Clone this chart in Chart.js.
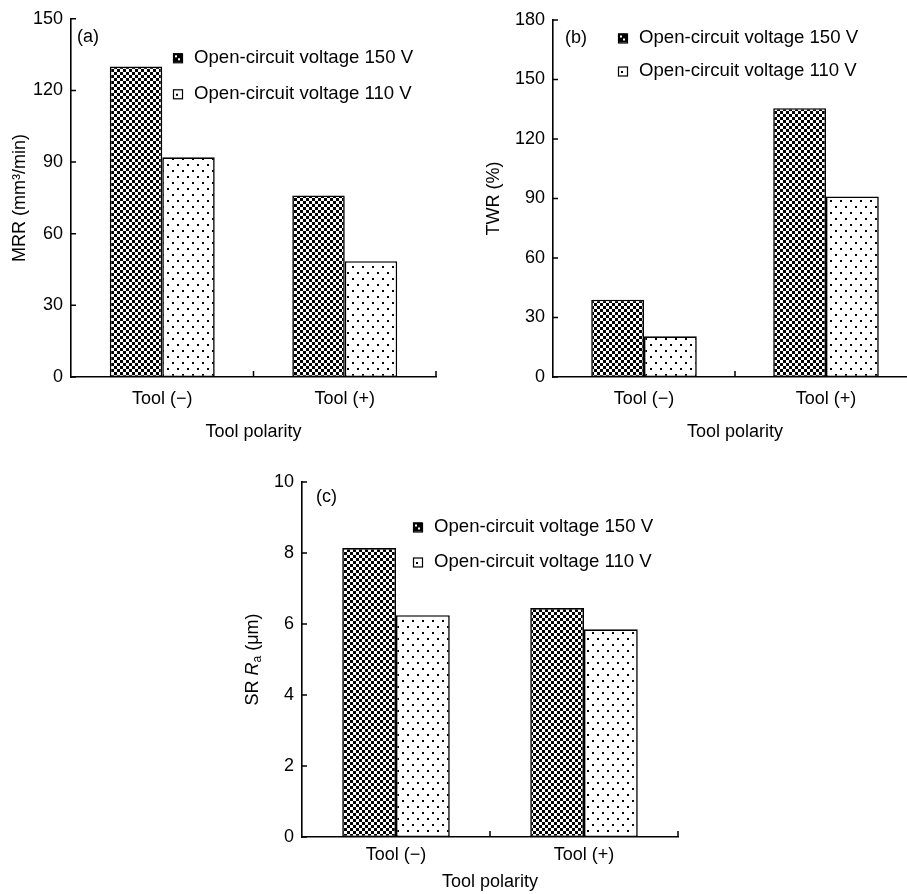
<!DOCTYPE html>
<html>
<head>
<meta charset="utf-8">
<script src="https://cdn.jsdelivr.net/npm/chart.js@4"></script>
<style>
  html, body { margin: 0; padding: 0; background: #fff; overflow: hidden; }
  #page { position: relative; width: 907px; height: 894px; overflow: hidden; }
  .panel { position: absolute; }
</style>
</head>
<body>
<div id="page">
  <div class="panel" style="left:0;top:0"><canvas id="chartA" width="453" height="450"></canvas></div>
  <div class="panel" style="left:453px;top:0"><canvas id="chartB" width="470" height="450"></canvas></div>
  <div class="panel" style="left:230px;top:450px"><canvas id="chartC" width="480" height="444"></canvas></div>
</div>
<script>
const categories = ["Tool (\u2212)", "Tool (+)"];
const seriesNames = ["Open-circuit voltage 150 V", "Open-circuit voltage 110 V"];

const mrr150 = [130, 76];
const mrr110 = [92, 48.5];
const mrrTicks = [0, 30, 60, 90, 120, 150];

const twr150 = [39, 135.5];
const twr110 = [20.5, 91];
const twrTicks = [0, 30, 60, 90, 120, 150, 180];

const sr150 = [8.14, 6.45];
const sr110 = [6.25, 5.85];
const srTicks = [0, 2, 4, 6, 8, 10];

const FONT = "'Liberation Sans', Arial, sans-serif";
Chart.defaults.font.family = FONT;
Chart.defaults.font.size = 18;
Chart.defaults.color = "#000";

// fill patterns for the two series
function checkerPattern(cell) {
  const c = document.createElement("canvas");
  c.width = cell * 2; c.height = cell * 2;
  const g = c.getContext("2d");
  g.fillStyle = "#fff"; g.fillRect(0, 0, cell * 2, cell * 2);
  g.fillStyle = "#000"; g.fillRect(0, 0, cell, cell); g.fillRect(cell, cell, cell, cell);
  return g.createPattern(c, "repeat");
}
function dotPattern() {
  const c = document.createElement("canvas");
  c.width = 10; c.height = 12;
  const g = c.getContext("2d");
  g.fillStyle = "#fff"; g.fillRect(0, 0, 10, 12);
  g.fillStyle = "#000"; g.fillRect(2, 2, 2, 2); g.fillRect(7, 8, 2, 2);
  return g.createPattern(c, "repeat");
}
const checker = checkerPattern(3);
const dots = dotPattern();

// small tick marks pointing into the plot
const innerTicks = {
  id: "innerTicks",
  afterDraw(chart) {
    const { ctx, chartArea, scales } = chart;
    const x = scales.x, y = scales.y;
    ctx.save();
    ctx.strokeStyle = "#000";
    ctx.lineWidth = 1.5;
    ctx.beginPath();
    y.ticks.forEach(t => {
      const py = y.getPixelForValue(t.value);
      ctx.moveTo(chartArea.left, py);
      ctx.lineTo(chartArea.left + 5, py);
    });
    for (let i = 1; i <= x.ticks.length; i++) {
      const px = i < x.ticks.length
        ? (x.getPixelForTick(i - 1) + x.getPixelForTick(i)) / 2
        : chartArea.right;
      ctx.moveTo(px, chartArea.bottom);
      ctx.lineTo(px, chartArea.bottom - 6);
    }
    ctx.stroke();
    ctx.restore();
  }
};

// legend + panel tag drawn inside the plot area
const insideLegend = {
  id: "insideLegend",
  afterDraw(chart, args, opts) {
    const { ctx, chartArea } = chart;
    ctx.save();
    ctx.textBaseline = "middle";
    ctx.fillStyle = "#000";
    ctx.font = "18px " + FONT;
    ctx.fillText(opts.tag, chartArea.left + opts.tagX, chartArea.top + opts.tagY);
    ctx.font = "18.6px " + FONT;
    chart.data.datasets.forEach((ds, i) => {
      const bx = chartArea.left + opts.x;
      const cy = chartArea.top + opts.y + i * opts.gap;
      ctx.fillStyle = i === 0 ? "#000" : "#fff";
      ctx.fillRect(bx, cy - 4.5, 9, 9);
      ctx.fillStyle = i === 0 ? "#fff" : "#000";
      if (i === 0) {
        ctx.fillRect(bx + 2, cy - 2.5, 2, 2);
        ctx.fillRect(bx + 5, cy + 0.5, 2, 2);
      } else {
        ctx.fillRect(bx + 3, cy, 2, 2);
      }
      ctx.strokeStyle = "#000";
      ctx.lineWidth = 1.2;
      ctx.strokeRect(bx + 0.5, cy - 4, 9, 9);
      ctx.fillStyle = "#000";
      ctx.fillText(ds.label, bx + 21, cy);
    });
    ctx.restore();
  }
};

// y title with italic symbol and subscript
const richYTitle = {
  id: "richYTitle",
  afterDraw(chart, args, opts) {
    if (!opts.parts) return;
    const { ctx, chartArea } = chart;
    ctx.save();
    ctx.translate(opts.x, (chartArea.top + chartArea.bottom) / 2);
    ctx.rotate(-Math.PI / 2);
    ctx.textBaseline = "middle";
    ctx.fillStyle = "#000";
    let total = 0;
    opts.parts.forEach(p => { ctx.font = p.font; total += ctx.measureText(p.text).width; });
    let cx = -total / 2;
    opts.parts.forEach(p => {
      ctx.font = p.font;
      ctx.fillText(p.text, cx, p.dy || 0);
      cx += ctx.measureText(p.text).width;
    });
    ctx.restore();
  }
};

function makeChart(id, cfg) {
  const ticksList = cfg.ticks;
  return new Chart(document.getElementById(id), {
    type: "bar",
    data: {
      labels: categories,
      datasets: [
        { label: seriesNames[0], data: cfg.a, backgroundColor: checker },
        { label: seriesNames[1], data: cfg.b, backgroundColor: dots }
      ].map(d => Object.assign(d, {
        borderColor: "#000",
        borderWidth: 1.6,
        borderSkipped: false,
        barPercentage: 1,
        categoryPercentage: cfg.catPct
      }))
    },
    options: {
      responsive: false,
      animation: false,
      devicePixelRatio: 1,
      layout: { padding: cfg.pad },
      plugins: {
        legend: { display: false },
        tooltip: { enabled: false },
        insideLegend: cfg.legend,
        richYTitle: cfg.richTitle || {}
      },
      scales: {
        x: {
          grid: { display: false, drawTicks: false },
          border: { color: "#000", width: 1.6 },
          ticks: { color: "#000", padding: cfg.xTickPad },
          title: { display: true, text: "Tool polarity", color: "#000", padding: { top: 0, bottom: cfg.xTitlePad } },
          afterFit: s => { s.height = cfg.xH; }
        },
        y: {
          min: ticksList[0],
          max: ticksList[ticksList.length - 1],
          afterBuildTicks: s => { s.ticks = ticksList.map(v => ({ value: v })); },
          grid: { display: false, drawTicks: false },
          border: { color: "#000", width: 1.6 },
          ticks: { color: "#000", padding: 8 },
          title: { display: !!cfg.yTitle, text: cfg.yTitle, color: "#000", padding: { top: cfg.yTitlePad, bottom: 0 } },
          afterFit: s => { s.width = cfg.yW; }
        }
      }
    },
    plugins: [innerTicks, insideLegend, richYTitle]
  });
}

makeChart("chartA", {
  a: mrr150, b: mrr110, ticks: mrrTicks, catPct: 0.575,
  pad: { left: 0, top: 18, right: 17, bottom: 0 },
  yW: 71, xH: 73, xTickPad: 11, xTitlePad: 7, yTitlePad: 9,
  yTitle: "MRR (mm\u00B3/min)",
  legend: { tag: "(a)", tagX: 6, tagY: 18, x: 102, y: 39, gap: 36 }
});

makeChart("chartB", {
  a: twr150, b: twr110, ticks: twrTicks, catPct: 0.58,
  pad: { left: 0, top: 20, right: 6, bottom: 0 },
  yW: 100, xH: 73, xTickPad: 11, xTitlePad: 7, yTitlePad: 30,
  yTitle: "TWR (%)",
  legend: { tag: "(b)", tagX: 12, tagY: 18, x: 65, y: 18, gap: 33 }
});

makeChart("chartC", {
  a: sr150, b: sr110, ticks: srTicks, catPct: 0.572,
  pad: { left: 0, top: 32, right: 32, bottom: 0 },
  yW: 72, xH: 57, xTickPad: 7, xTitlePad: 1, yTitlePad: 0,
  yTitle: "",
  richTitle: {
    x: 23,
    parts: [
      { text: "SR ", font: "18px " + FONT },
      { text: "R", font: "italic 18px " + FONT },
      { text: "a", font: "12px " + FONT, dy: 5 },
      { text: " (\u03BCm)", font: "18px " + FONT }
    ]
  },
  legend: { tag: "(c)", tagX: 14, tagY: 15, x: 111, y: 45, gap: 35 }
});
</script>
</body>
</html>
